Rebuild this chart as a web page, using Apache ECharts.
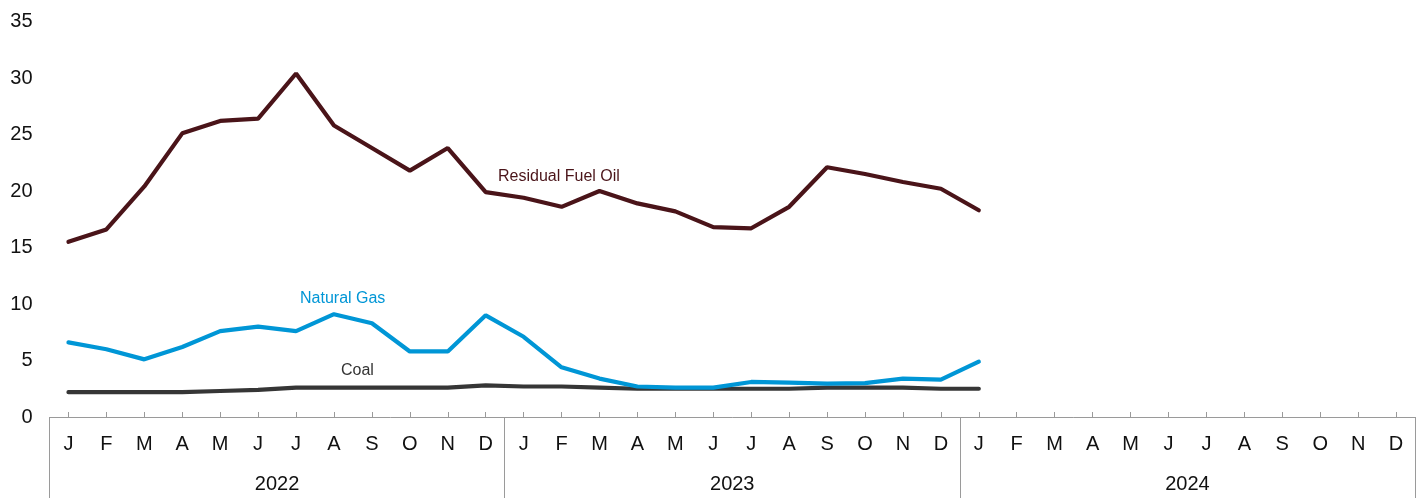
<!DOCTYPE html>
<html>
<head>
<meta charset="utf-8">
<title>Fuel costs</title>
<script src="https://cdn.jsdelivr.net/npm/echarts@6/dist/echarts.min.js"></script>
<style>
  html, body { margin: 0; padding: 0; background: #fff; }
  #chart { width: 1424px; height: 498px; }
</style>
</head>
<body>
<div id="chart"></div>
<script>
// data, Jan 2022 .. Jan 2024
const years = ['2022', '2023', '2024'];
const monthLetters = ['J', 'F', 'M', 'A', 'M', 'J', 'J', 'A', 'S', 'O', 'N', 'D'];
const yTicks = [0, 5, 10, 15, 20, 25, 30, 35];

const residualFuelOil = [
  15.5, 16.6, 20.4, 25.1, 26.2, 26.4, 30.4, 25.8, 23.8, 21.8, 23.8, 19.9,
  19.4, 18.6, 20.0, 18.9, 18.2, 16.8, 16.7, 18.6, 22.1, 21.5, 20.8, 20.2,
  18.3
];
const naturalGas = [
  6.6, 6.0, 5.1, 6.2, 7.6, 8.0, 7.6, 9.1, 8.3, 5.8, 5.8, 9.0,
  7.1, 4.4, 3.4, 2.7, 2.6, 2.6, 3.1, 3.05, 2.95, 3.0, 3.4, 3.3,
  4.9
];
const coal = [
  2.2, 2.2, 2.2, 2.2, 2.3, 2.4, 2.6, 2.6, 2.6, 2.6, 2.6, 2.8,
  2.7, 2.7, 2.6, 2.5, 2.5, 2.5, 2.5, 2.5, 2.6, 2.6, 2.6, 2.5,
  2.5
];

const categories = [];
years.forEach(y => monthLetters.forEach((m, i) => categories.push(y + '-' + (i + 1))));

const font = '"Liberation Sans", Arial, sans-serif';
const axisGray = '#9a9a9a';

const chart = echarts.init(document.getElementById('chart'));

chart.setOption({
  backgroundColor: '#fff',
  animation: false,
  textStyle: { fontFamily: font },
  grid: { left: 49.5, right: 9, top: 21.5, bottom: 81, containLabel: false },
  xAxis: [
    {
      type: 'category',
      data: categories,
      boundaryGap: true,
      axisLine: { show: true, lineStyle: { color: axisGray, width: 1 } },
      axisTick: { show: true, inside: true, length: 5, alignWithLabel: true, lineStyle: { color: axisGray } },
      axisLabel: {
        interval: 0,
        margin: 17,
        color: '#111',
        fontSize: 20,
        fontFamily: font,
        formatter: v => monthLetters[+v.split('-')[1] - 1]
      },
      splitLine: { show: false }
    },
    {
      // year band below the months, separators drawn as long ticks
      type: 'category',
      data: years,
      position: 'bottom',
      boundaryGap: true,
      axisLine: { show: false },
      axisTick: { show: true, length: 82, interval: 0, lineStyle: { color: axisGray } },
      axisLabel: { margin: 57, color: '#111', fontSize: 20, fontFamily: font },
      splitLine: { show: false }
    }
  ],
  yAxis: {
    type: 'value',
    min: yTicks[0],
    max: yTicks[yTicks.length - 1],
    interval: 5,
    axisLine: { show: false },
    axisTick: { show: false },
    splitLine: { show: false },
    axisLabel: { margin: 17, color: '#111', fontSize: 20, fontFamily: font }
  },
  series: [
    {
      name: 'Coal',
      type: 'line',
      data: coal,
      symbol: 'none',
      lineStyle: { color: '#363636', width: 4.2, cap: 'round' },
      itemStyle: { color: '#363636' }
    },
    {
      name: 'Natural Gas',
      type: 'line',
      data: naturalGas,
      symbol: 'none',
      lineStyle: { color: '#0096d6', width: 4.2, cap: 'round' },
      itemStyle: { color: '#0096d6' }
    },
    {
      name: 'Residual Fuel Oil',
      type: 'line',
      data: residualFuelOil,
      symbol: 'none',
      lineStyle: { color: '#4a1419', width: 4.2, cap: 'round' },
      itemStyle: { color: '#4a1419' }
    }
  ],
  graphic: [
    { type: 'text', left: 498, top: 169, style: { text: 'Residual Fuel Oil', fill: '#4a1419', font: '16px ' + font } },
    { type: 'text', left: 300, top: 291, style: { text: 'Natural Gas', fill: '#0096d6', font: '16px ' + font } },
    { type: 'text', left: 341, top: 363, style: { text: 'Coal', fill: '#333', font: '16px ' + font } }
  ]
});
</script>
</body>
</html>
